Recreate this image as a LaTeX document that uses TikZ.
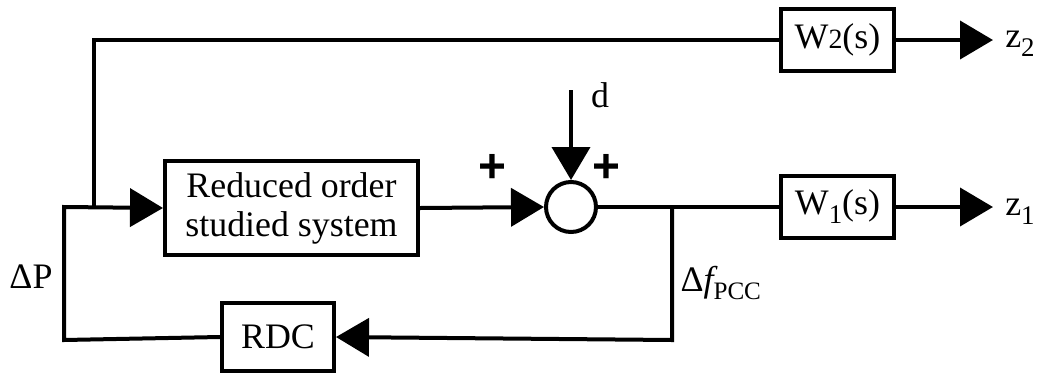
\documentclass[tikz,border=0pt]{standalone}
\usepackage{fontspec}
\newfontfamily\blockfont{Liberation Serif}
\newfontfamily\signfont{Liberation Sans}
\usetikzlibrary{arrows.meta}
\tikzset{
  every picture/.style={
    line join=miter,
    font=\blockfont\fontsize{36}{42}\selectfont,
  },
  wire/.style={line width=4bp},
  sig/.style={wire, -{Triangle[length=33bp,width=38bp]}},
  block/.style={draw, line width=4bp, inner sep=0pt, align=center},
  sumnode/.style={draw, circle, line width=4bp, minimum size=50bp, inner sep=0pt},
  sign/.style={font=\signfont\bfseries\fontsize{48}{48}\selectfont, inner sep=0pt},
}
\newcommand{\lowsub}[1]{\raisebox{-9bp}{\fontsize{27}{29}\selectfont #1}}
\begin{document}
\begin{tikzpicture}[x=1bp,y=-1bp]
\useasboundingbox (0,0) rectangle (1039,374);
% blocks
\node[block,minimum width=253bp,minimum height=94bp] (plant) at (291.5,208) {Reduced order\\[-3bp]studied system};
\node[sumnode] (sum) at (571,207) {};
\node[block,minimum width=113bp,minimum height=62bp] (w1) at (837.5,207) {W\lowsub{1}(s)};
\node[block,minimum width=113bp,minimum height=62bp] (w2) at (837.5,40) {W{\fontsize{28}{30}\selectfont 2}(s)};
\node[block,minimum width=112bp,minimum height=68bp] (rdc) at (278,337) {RDC};
% corners and branch points
\coordinate (br) at (94,207);
\coordinate (tl) at (94,40);
\coordinate (ll) at (64,207);
\coordinate (bl) at (64,340);
\coordinate (fb) at (672,207);
\coordinate (fbd) at (672,340);
\coordinate (din) at (571,90);
\coordinate (z1end) at (993,207);
\coordinate (z2end) at (993,40);
% labels
\node (dlab) at (600,95) {d};
\node[sign] (pl) at (492,168) {+};
\node[sign] (pr) at (606,168) {+};
\node (z1) at (1020,212) {z\lowsub{1}};
\node (z2) at (1020,44) {z\lowsub{2}};
\node (dp) at (31,277) {ΔP};
\node (df) at (721,283) {Δ{\itshape f}\textsubscript{PCC}};
% connectors
\draw[sig] (rdc.west) -- (bl) -- (ll) -- (plant.west);
\draw[wire] (br) -- (tl) -- (w2.west);
\draw[sig] (plant.east) -- (sum.west);
\draw[sig] (din) -- (sum.north);
\draw[wire] (sum.east) -- (w1.west);
\draw[sig] (fb) -- (fbd) -- (rdc.east);
\draw[sig] (w1.east) -- (z1end);
\draw[sig] (w2.east) -- (z2end);
\end{tikzpicture}
\end{document}
